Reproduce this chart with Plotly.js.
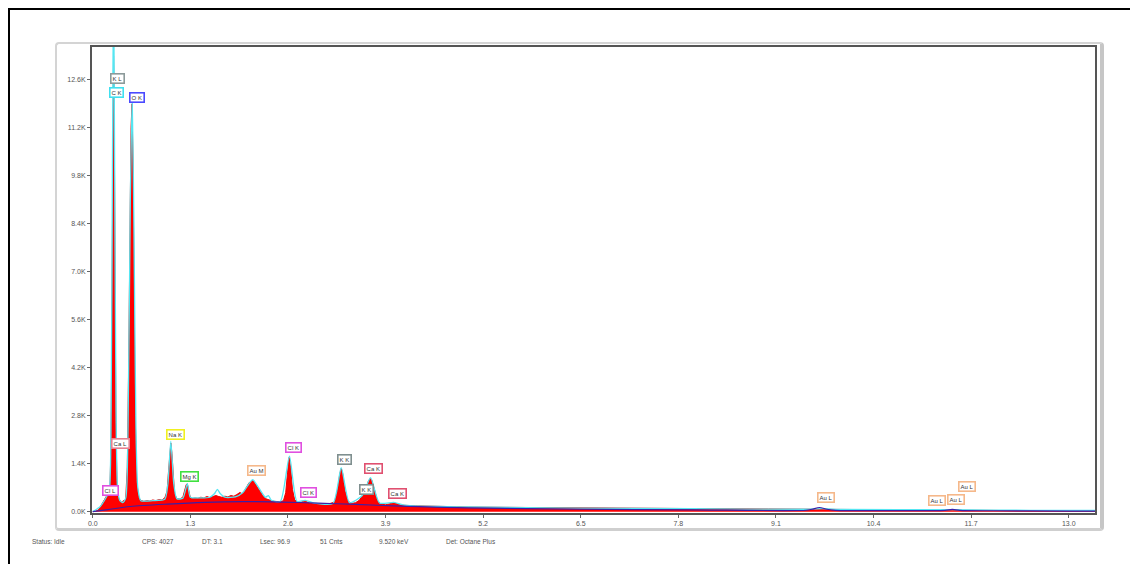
<!DOCTYPE html>
<html>
<head>
<meta charset="utf-8">
<script src="https://cdn.plot.ly/plotly-3.0.1.min.js"></script>
<style>
  html, body { margin:0; padding:0; background:#fff; width:1130px; height:564px; overflow:hidden; }
  #frame { position:absolute; left:8px; top:8px; width:1140px; height:600px; border-top:2px solid #000; border-left:2px solid #000; }
  #panel { position:absolute; left:55px; top:42px; width:1043px; height:484px; border:2px solid #d4d4d4; border-right:4px solid #c6c6c6; border-bottom:3px solid #cfcfcf; border-radius:4px; }
  #chart { position:absolute; left:0; top:0; width:1130px; height:564px; }
</style>
</head>
<body>
<div id="frame"></div>
<div id="panel"></div>
<div id="chart"></div>
<script>
// Measured spectrum (red, filled)
const specE = [0.00,0.04,0.08,0.11,0.14,0.16,0.18,0.20,0.215,0.23,0.245,0.258,0.268,0.277,0.286,0.296,0.308,0.322,0.338,0.352,0.37,0.39,0.41,0.425,0.44,0.46,0.478,0.495,0.51,0.523,0.536,0.55,0.566,0.585,0.61,0.64,0.68,0.72,0.76,0.80,0.84,0.88,0.92,0.96,0.99,1.01,1.025,1.04,1.055,1.07,1.09,1.12,1.16,1.20,1.225,1.245,1.26,1.275,1.295,1.32,1.36,1.40,1.44,1.48,1.52,1.56,1.60,1.64,1.68,1.72,1.76,1.80,1.84,1.88,1.92,1.96,1.99,2.02,2.05,2.08,2.11,2.13,2.15,2.18,2.21,2.24,2.27,2.30,2.34,2.38,2.42,2.46,2.50,2.54,2.57,2.595,2.615,2.635,2.66,2.69,2.73,2.77,2.80,2.825,2.85,2.88,2.95,3.05,3.15,3.22,3.26,3.29,3.31,3.33,3.36,3.40,3.45,3.50,3.55,3.59,3.63,3.67,3.695,3.72,3.75,3.79,3.84,3.90,3.96,4.00,4.04,4.10,4.30,4.60,5.00,5.50,6.00,6.50,7.00,7.50,8.00,8.50,9.00,9.50,9.70,10.00,10.50,11.00,11.45,11.70,12.00,12.50,13.00,13.35];
const specC = [0,10,60,180,300,380,470,520,430,700,2200,6500,11000,13300,11500,6800,2600,900,430,360,300,250,330,260,420,1300,4200,8500,11200,11900,10200,6500,2800,900,420,330,300,320,310,340,320,350,340,400,600,1200,1750,2000,1700,1000,520,380,370,420,600,790,810,680,450,380,400,390,420,400,440,410,430,470,440,420,450,430,470,450,500,560,520,600,720,840,880,910,860,760,620,520,450,380,340,320,300,300,290,320,550,1150,1580,1300,650,340,280,270,310,320,290,250,240,230,230,280,600,1100,1260,1100,600,300,240,260,330,460,620,880,970,900,620,330,220,200,230,270,240,190,170,150,135,125,115,110,100,95,88,82,78,72,75,65,58,52,60,45,35,20,10,5];

// Fitted spectrum (cyan line)
const fitE = [0.00,0.10,0.18,0.22,0.245,0.262,0.277,0.292,0.31,0.33,0.36,0.40,0.44,0.47,0.50,0.525,0.55,0.575,0.60,0.64,0.80,0.96,1.00,1.04,1.08,1.12,1.20,1.26,1.30,1.40,1.56,1.62,1.66,1.70,1.76,1.90,2.00,2.13,2.25,2.30,2.34,2.38,2.50,2.62,2.72,2.83,2.95,3.20,3.31,3.42,3.59,3.70,3.82,4.01,4.15,5.0,6.5,8.0,9.5,9.71,10.0,11.44,12.0,13.0,13.35];
const fitC = [0,150,420,600,3000,10000,15500,10000,3000,700,330,260,400,2500,9000,12100,8000,2500,700,320,320,360,800,2050,800,380,390,820,420,400,420,520,650,520,420,430,560,930,560,420,470,330,300,1620,300,330,250,240,1280,260,470,990,250,270,190,135,105,85,70,85,62,60,45,35,33];

// Background (blue line)
const bgE = [0.00,0.20,0.50,1.00,1.50,2.00,2.50,3.00,3.50,4.00,5.00,6.50,8.00,9.50,9.58,9.68,9.78,9.90,11.00,11.35,11.45,11.55,12.00,13.00,13.35];
const bgC = [0,60,150,220,270,290,280,250,210,170,110,70,50,40,70,120,70,38,30,35,65,35,25,15,12];

// Peak labels
const labText = ["K L","C K","O K","Ca L","Cl L","Na K","Mg K","Au M","Cl K","Cl K","K K","K K","Ca K","Ca K","Au L","Au L","Au L","Au L"];
const labE    = [0.332,0.319,0.585,0.372,0.239,1.104,1.290,2.181,2.673,2.873,3.351,3.644,3.737,4.056,9.762,11.24,11.50,11.64];
const labC    = [12655,12246,12100,1987,614,2250,1023,1198,1870,555,1520,643,1257,526,409,321,351,731];
const labColor= ["#8c9a9a","#40e0f0","#4a4aff","#e88090","#e050e0","#f0f020","#40e040","#f5b88a","#e050e0","#e050e0","#7f8f8f","#7f8f8f","#e05070","#e05070","#f5b88a","#f5b88a","#f5b88a","#f5b88a"];

// Axis ticks
const xTicks = [0.0,1.3,2.6,3.9,5.2,6.5,7.8,9.1,10.4,11.7,13.0];
const xTickText = ["0.0","1.3","2.6","3.9","5.2","6.5","7.8","9.1","10.4","11.7","13.0"];
const yTicks = [0,1400,2800,4200,5600,7000,8400,9800,11200,12600];
const yTickText = ["0.0K","1.4K","2.8K","4.2K","5.6K","7.0K","8.4K","9.8K","11.2K","12.6K"];

// Status bar
const statusText = ["Status: Idle","CPS: 4027","DT: 3.1","Lsec: 96.9","51 Cnts","9.520 keV","Det: Octane Plus"];
const statusX = [30,140,200,258,318,377,444];

const traces = [
  {x: specE, y: specC, type:'scatter', mode:'lines', fill:'tozeroy', fillcolor:'#ff0000', line:{color:'#ee0000', width:1}, hoverinfo:'skip'},
  {x: fitE, y: fitC, type:'scatter', mode:'lines', line:{color:'#55e6f2', width:1.3, shape:'spline', smoothing:0.6}, hoverinfo:'skip'},
  {x: bgE, y: bgC, type:'scatter', mode:'lines', line:{color:'#3a1fa8', width:1.2, shape:'spline', smoothing:0.8}, hoverinfo:'skip'}
];

const annotations = labText.map((t,i)=>({
  x: labE[i], y: labC[i], xref:'x', yref:'y', text: t, showarrow:false,
  font:{family:'Liberation Sans, Arial, sans-serif', size:6, color:'#333'},
  bgcolor:'#ffffff', bordercolor: labColor[i], borderwidth:1.6, borderpad:1
}));
statusText.forEach((t,i)=>annotations.push({
  x: statusX[i], y: 541, xref:'paper', yref:'paper', text:t, showarrow:false,
  xanchor:'left', yanchor:'middle',
  font:{family:'Liberation Sans, Arial, sans-serif', size:6.5, color:'#555'}
}));
// convert status positions from pixels to paper coords
const L=92, R=35, T=47, B=51, W=1130, H=564;
const pw = W-L-R, ph = H-T-B;
annotations.forEach(a=>{ if(a.xref==='paper'){ a.x=(a.x-L)/pw; a.y=(H-B-a.y)/ph; }});

const layout = {
  width:W, height:H,
  margin:{l:L, r:R, t:T, b:B, pad:0},
  paper_bgcolor:'rgba(0,0,0,0)', plot_bgcolor:'#ffffff',
  showlegend:false,
  font:{family:'Liberation Sans, Arial, sans-serif', size:7, color:'#555'},
  xaxis:{range:[-0.01,13.35], tickvals:xTicks, ticktext:xTickText, ticks:'outside', ticklen:3, tickcolor:'#666',
         showgrid:false, zeroline:false, showline:true, linecolor:'#555', linewidth:2, mirror:true,
         tickfont:{size:7, color:'#555'}, fixedrange:true},
  yaxis:{range:[-40,13560], tickvals:yTicks, ticktext:yTickText, ticks:'outside', ticklen:3, tickcolor:'#666',
         showgrid:false, zeroline:false, showline:true, linecolor:'#555', linewidth:2, mirror:true,
         tickfont:{size:7, color:'#555'}, fixedrange:true},
  annotations: annotations
};
Plotly.newPlot('chart', traces, layout, {displayModeBar:false, staticPlot:true});
</script>
</body>
</html>
